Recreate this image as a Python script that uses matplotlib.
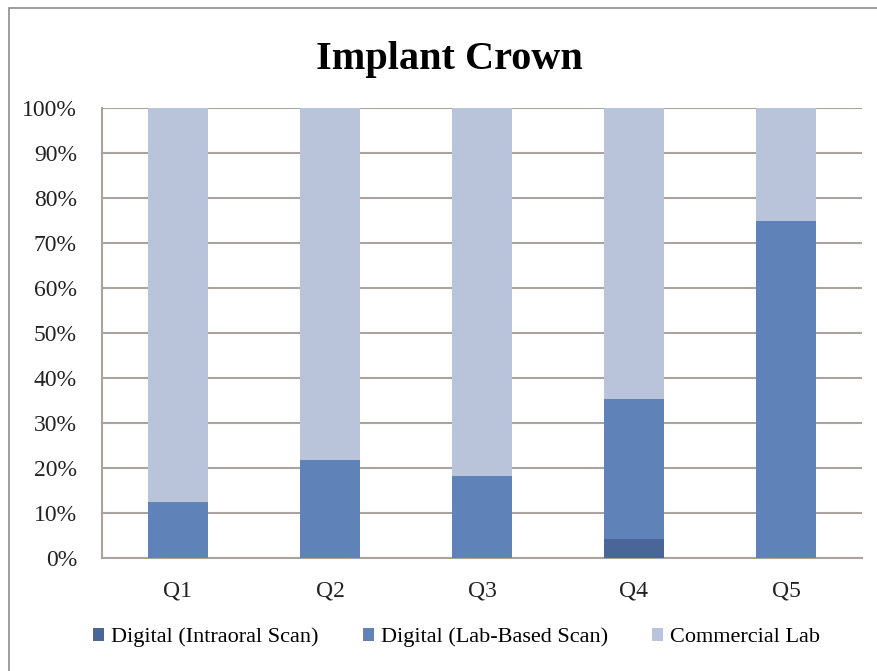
import numpy as np
import matplotlib
matplotlib.use("Agg")
import matplotlib.pyplot as plt
from matplotlib.patches import Rectangle
from matplotlib.ticker import PercentFormatter

categories = ["Q1", "Q2", "Q3", "Q4", "Q5"]
intraoral = [0.0, 0.0, 0.0, 4.2, 0.0]
lab_based = [12.5, 21.8, 18.2, 31.1, 75.0]
commercial = [87.5, 78.2, 81.8, 64.7, 25.0]

labels = ["Digital (Intraoral Scan)", "Digital (Lab-Based Scan)", "Commercial Lab"]
colors = ["#4A6699", "#5F83B8", "#B9C3DA"]

plt.rcParams['font.family'] = ['Liberation Serif', 'DejaVu Serif']

fig = plt.figure(figsize=(8.78, 6.71), dpi=100)
# grey frame round the chart, running off the right and bottom edges
fig.patches.append(Rectangle((9 / 878, -0.1), 1.2, (671 - 8) / 671 + 0.1,
                             transform=fig.transFigure, fill=False,
                             edgecolor="#8C8C8C", linewidth=1.2))

ax = fig.add_axes([102 / 878, 113 / 671, 760 / 878, 450 / 671])
x = np.arange(len(categories))
w = 0.4
bottom = np.zeros(len(categories))
for vals, lab, col in zip([intraoral, lab_based, commercial], labels, colors):
    ax.bar(x, vals, w, bottom=bottom, color=col, label=lab, zorder=3)
    bottom += np.array(vals)

ax.set_xlim(-0.5, len(categories) - 0.5)
ax.set_ylim(0, 100)
ax.set_yticks(np.arange(0, 101, 10))
ax.yaxis.set_major_formatter(PercentFormatter(decimals=0))
ax.set_xticks(x)
ax.set_xticklabels(categories)
ax.grid(axis='y', color="#A9A49F", linewidth=1.5, zorder=0)
ax.tick_params(length=0, labelsize=17, colors="#222222")
ax.tick_params(axis='y', pad=18)
ax.tick_params(axis='x', pad=16)
for side in ["top", "right"]:
    ax.spines[side].set_visible(False)
for side in ["left", "bottom"]:
    ax.spines[side].set_color("#A9A49F")
    ax.spines[side].set_linewidth(1.5)

fig.text(0.512, 0.912, "Implant Crown", ha="center", va="center",
         fontsize=29, fontweight="bold")

fig.legend(loc="center", bbox_to_anchor=(0.52, 0.05), ncol=3, frameon=False,
           fontsize=16, handlelength=0.5, handleheight=0.5, handletextpad=0.3,
           columnspacing=2.0)

fig.savefig("out.png", dpi=100)
